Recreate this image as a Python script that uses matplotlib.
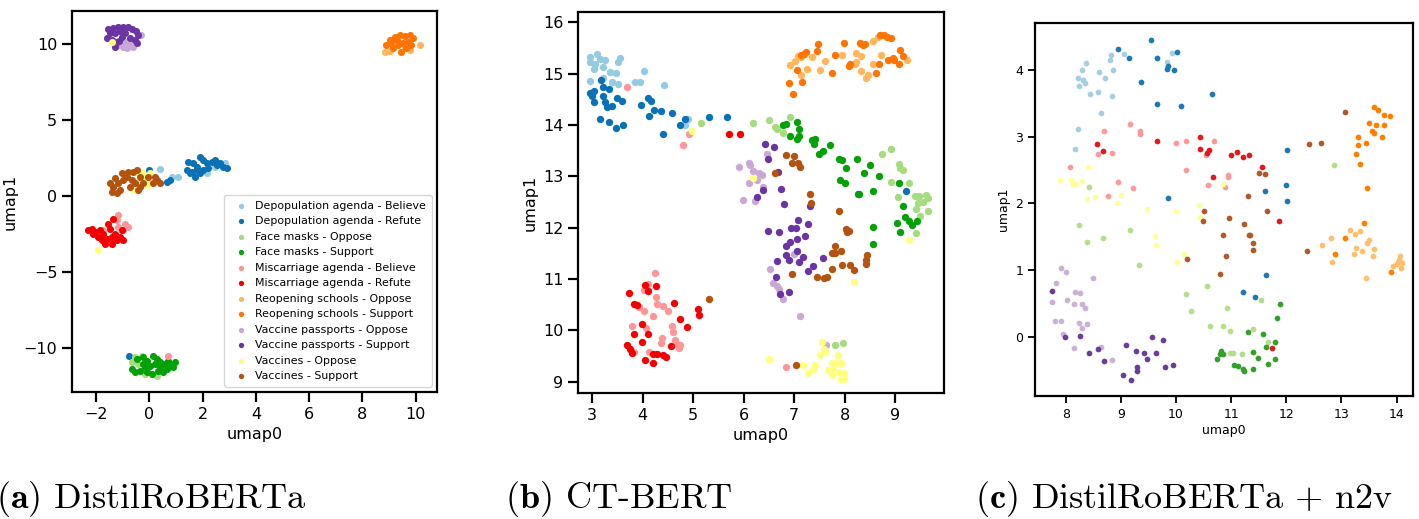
import matplotlib
matplotlib.use("Agg")
import matplotlib.pyplot as plt

# legend labels, same order in all three panels
labels = ["Depopulation agenda - Believe", "Depopulation agenda - Refute",
          "Face masks - Oppose", "Face masks - Support",
          "Miscarriage agenda - Believe", "Miscarriage agenda - Refute",
          "Reopening schools - Oppose", "Reopening schools - Support",
          "Vaccine passports - Oppose", "Vaccine passports - Support",
          "Vaccines - Oppose", "Vaccines - Support"]

colors_ab = ["#94cbe3", "#0a72b4", "#a6dc80", "#03a006", "#fd9797", "#f40000",
             "#ffb65c", "#ff7400", "#c9a8d6", "#6a35a2", "#ffff80", "#b4520f"]
colors_c = ["#a6cee3", "#1f78b4", "#b2df8a", "#33a02c", "#fb9a99", "#e31a1c",
            "#fdbf6f", "#ff7f00", "#cab2d6", "#6a3d9a", "#ffff99", "#b15928"]

# ---------------- panel (a) DistilRoBERTa ----------------
a_dep_believe = [(0.40, 1.76), (0.84, 1.28), (1.09, 1.28), (2.15, 1.50), (2.84, 2.16),
                 (2.46, 1.94), (-0.29, 0.95)]
a_dep_refute = [(0.0, 1.72), (0.65, 0.95), (0.78, 1.06), (1.40, 1.72), (1.53, 1.50), (1.46, 2.26),
                (1.65, 2.16), (1.78, 1.94), (1.90, 2.59), (2.03, 2.38), (2.15, 2.16), (2.34, 2.26),
                (2.46, 2.38), (2.53, 2.05), (2.65, 2.16), (2.21, 1.83), (1.90, 1.50), (1.71, 1.28),
                (1.59, 1.60), (2.03, 1.72), (2.90, 1.83), (2.78, 1.94), (1.78, 1.72), (-0.76, -10.54)]
a_mask_oppose = [(-0.54, -10.61), (-0.29, -10.50), (-0.41, -11.04), (-0.16, -11.70), (0.28, -11.82),
                 (-0.66, -10.94)]
a_mask_support = [(-0.47, -10.71), (-0.22, -10.61), (-0.10, -10.83), (0.15, -10.50), (0.28, -10.71),
                  (0.40, -10.94), (0.59, -11.04), (0.78, -11.04), (0.90, -11.27), (0.65, -11.37),
                  (0.40, -11.27), (0.21, -11.04), (0.03, -11.16), (-0.16, -11.27), (-0.35, -11.49),
                  (-0.54, -11.60), (-0.66, -11.37), (-0.10, -11.60), (0.09, -11.70), (0.34, -11.49),
                  (0.53, -11.60), (-0.22, -11.04), (0.71, -10.83), (0.96, -10.94)]
a_misc_believe = [(-1.16, -1.25), (-0.91, -1.80), (-0.79, -2.02), (-0.97, -2.24), (-1.16, -2.02),
                  (-1.72, -2.24), (-1.47, -2.90), (-1.22, -1.58), (0.69, -10.54)]
a_misc_refute = [(-2.29, -2.24), (-2.16, -2.13), (-2.04, -2.36), (-1.85, -2.24), (-1.91, -2.69),
                 (-1.79, -2.90), (-1.60, -2.79), (-1.41, -2.69), (-1.29, -2.46), (-1.22, -2.90),
                 (-1.10, -2.69), (-1.03, -2.24), (-1.47, -2.13), (-1.54, -1.80), (-1.35, -1.47),
                 (-1.66, -3.12), (-1.41, -3.12), (-0.97, -2.90), (-2.10, -2.46), (-1.72, -2.46)]
a_school_oppose = [(10.15, 9.97), (8.84, 9.52), (9.59, 9.85), (9.78, 9.64), (9.03, 9.59)]
a_school_support = [(8.90, 9.96), (9.03, 10.30), (9.21, 10.52), (9.40, 10.63), (9.59, 10.56),
                    (9.78, 10.63), (9.90, 10.41), (9.71, 10.19), (9.52, 10.08), (9.34, 9.97),
                    (9.15, 9.75), (9.46, 9.52), (9.65, 9.75), (9.84, 9.97), (9.09, 10.08), (9.28, 10.30)]
a_pass_oppose = [(-0.97, 9.85), (-0.79, 9.97), (-0.66, 10.08), (-0.85, 9.75), (-1.03, 10.08),
                 (-0.32, 10.63), (-0.60, 9.85), (-1.16, 9.97), (-0.85, 10.19)]
a_pass_support = [(-1.54, 11.0), (-1.35, 11.11), (-1.16, 11.13), (-0.97, 11.13), (-0.79, 11.13),
                  (-0.66, 11.0), (-0.50, 10.85), (-0.41, 10.63), (-0.54, 10.30), (-0.47, 10.08),
                  (-0.72, 10.41), (-0.91, 10.74), (-1.10, 10.85), (-1.29, 10.74), (-1.47, 10.74),
                  (-1.60, 10.45), (-1.41, 10.30), (-1.22, 10.19), (-1.03, 10.47), (-1.29, 9.85),
                  (-1.12, 10.25)]
a_vax_oppose = [(-1.39, 10.19), (-0.47, 1.50), (-0.29, 1.60), (-0.16, 1.28), (-0.04, 0.95),
                (-0.10, 0.73), (-0.60, 0.40), (-0.66, 0.84), (-0.35, 1.06), (0.03, 1.50), (-1.93, -3.56)]
a_vax_support = [(-1.47, 0.84), (-1.35, 0.61), (-1.41, 0.28), (-1.22, 0.22), (-1.10, 0.44),
                 (-1.16, 0.84), (-0.97, 1.06), (-0.91, 1.39), (-0.79, 1.60), (-0.60, 1.60),
                 (-0.47, 1.72), (-1.03, 1.50), (-0.85, 1.28), (-0.66, 1.06), (-0.54, 0.84),
                 (-0.35, 0.61), (-0.41, 0.40), (-0.22, 0.84), (-0.04, 1.28), (0.15, 0.84),
                 (0.28, 1.06), (0.21, 1.28), (0.40, 0.84), (-0.72, 0.61), (-1.29, 1.17), (-0.35, 1.28)]

# ---------------- panel (b) CT-BERT ----------------
b_dep_believe = [(2.96, 15.32), (3.09, 15.39), (3.16, 15.29), (3.26, 15.27), (2.96, 15.22),
                 (3.06, 15.19), (3.03, 15.09), (3.22, 15.12), (3.55, 15.31), (3.52, 15.22),
                 (3.36, 15.03), (3.48, 15.01), (2.96, 14.86), (3.22, 14.92), (3.39, 14.84),
                 (3.52, 14.80), (4.02, 15.05), (3.85, 14.83), (3.94, 14.84), (4.43, 14.78),
                 (4.89, 14.12), (4.84, 14.0)]
b_dep_refute = [(3.17, 14.88), (2.95, 14.63), (3.03, 14.67), (2.99, 14.57), (3.22, 14.73),
                (3.34, 14.70), (3.22, 14.57), (3.03, 14.45), (3.26, 14.44), (3.29, 14.35),
                (3.40, 14.37), (3.49, 14.52), (3.59, 14.46), (3.15, 14.12), (3.34, 14.06),
                (3.48, 13.94), (3.62, 14.0), (3.97, 14.39), (4.11, 14.52), (4.16, 14.47),
                (4.23, 14.29), (4.36, 14.27), (4.12, 14.18), (4.59, 14.23), (4.40, 13.82),
                (4.74, 13.99), (4.84, 14.11), (5.32, 14.16), (5.68, 14.16), (9.21, 12.71), (8.26, 12.65)]
b_mask_oppose = [(5.16, 14.03), (6.18, 14.03), (6.50, 14.10), (6.62, 13.96), (6.66, 13.92),
                 (6.78, 13.85), (6.92, 14.16), (8.74, 13.44), (8.92, 13.53), (9.07, 13.23),
                 (9.10, 13.16), (9.15, 13.12), (8.92, 12.89), (9.28, 12.87), (9.05, 12.59),
                 (9.40, 12.62), (9.48, 12.62), (9.61, 12.64), (9.66, 12.57), (9.55, 12.50),
                 (9.46, 12.48), (9.42, 12.37), (9.66, 12.33), (9.50, 12.22), (9.42, 11.89),
                 (7.81, 9.72), (7.96, 9.76)]
b_mask_support = [(6.79, 14.0), (6.84, 14.01), (7.05, 14.05), (7.10, 13.93), (6.92, 13.78),
                  (7.09, 13.78), (7.05, 13.72), (7.35, 13.71), (7.42, 13.72), (7.40, 13.63),
                  (7.71, 13.61), (7.58, 13.49), (7.50, 13.44), (7.88, 13.33), (7.94, 13.31),
                  (8.03, 13.16), (8.24, 13.33), (8.50, 13.22), (8.39, 13.06), (8.69, 13.01),
                  (7.91, 12.92), (8.01, 12.86), (8.29, 12.66), (8.57, 12.72), (9.07, 12.86),
                  (9.15, 12.43), (9.19, 12.20), (9.27, 12.13), (9.33, 12.06), (9.44, 12.13),
                  (9.03, 12.10), (9.10, 11.92), (8.57, 12.01), (8.57, 11.68)]
b_misc_believe = [(3.69, 14.73), (4.92, 13.83), (4.81, 13.60), (4.25, 11.12), (4.11, 10.91),
                  (4.02, 10.78), (4.26, 10.65), (4.29, 10.52), (4.41, 10.48), (3.92, 10.45),
                  (4.02, 10.37), (4.20, 10.27), (4.50, 10.37), (3.79, 10.08), (4.07, 10.04),
                  (4.58, 10.08), (4.60, 9.97), (4.38, 9.86), (4.37, 9.75), (4.64, 9.82),
                  (4.69, 9.73), (4.74, 9.71), (4.73, 9.65), (4.13, 9.58), (3.82, 9.58), (6.84, 9.29)]
b_misc_refute = [(5.71, 13.82), (5.92, 13.82), (4.05, 10.88), (4.27, 10.86), (4.10, 10.76),
                 (3.74, 10.73), (3.82, 10.52), (3.88, 10.50), (4.63, 10.54), (5.09, 10.42),
                 (5.11, 10.30), (3.98, 10.12), (3.82, 9.93), (4.11, 9.93), (4.74, 10.22),
                 (4.88, 10.06), (3.98, 9.78), (3.69, 9.71), (3.75, 9.63), (3.79, 9.55),
                 (4.56, 9.70), (4.21, 9.54), (4.29, 9.54), (4.41, 9.52), (4.47, 9.49),
                 (4.05, 9.42), (4.21, 9.37)]
b_school_oppose = [(6.91, 15.16), (7.01, 15.25), (7.07, 15.35), (7.14, 15.32), (7.36, 15.33),
                   (7.61, 15.24), (7.26, 15.09), (7.51, 15.07), (7.14, 14.97), (7.94, 15.37),
                   (8.23, 15.41), (8.33, 15.34), (8.23, 15.22), (8.21, 15.19), (8.33, 15.06),
                   (8.47, 14.98), (8.43, 14.92), (8.56, 15.18), (8.72, 15.37), (8.67, 15.71),
                   (8.56, 15.63), (9.24, 15.27)]
b_school_support = [(7.48, 15.58), (7.46, 15.44), (7.24, 15.42), (7.19, 15.39), (7.98, 15.60),
                    (8.31, 15.59), (8.36, 15.55), (8.41, 15.57), (8.71, 15.76), (8.78, 15.76),
                    (8.84, 15.71), (8.92, 15.69), (9.09, 15.46), (9.15, 15.35), (8.86, 15.27),
                    (8.95, 15.31), (8.97, 15.27), (9.07, 15.18), (8.68, 15.19), (8.62, 15.01),
                    (8.10, 15.19), (8.08, 15.14), (7.81, 15.37), (7.75, 15.01), (7.05, 15.07),
                    (7.16, 14.83), (6.89, 14.81), (6.98, 14.61), (7.14, 15.37)]
b_pass_oppose = [(5.90, 13.18), (6.10, 13.25), (6.13, 13.22), (6.19, 13.11), (6.31, 13.06),
                 (6.36, 13.03), (6.26, 12.93), (6.10, 12.87), (6.38, 12.80), (5.98, 12.53),
                 (6.23, 12.51), (6.46, 13.43), (6.52, 11.19), (6.58, 10.93), (6.66, 10.86),
                 (6.71, 10.81), (6.79, 10.61), (7.12, 10.27), (7.63, 9.72), (6.99, 11.48)]
b_pass_support = [(6.43, 13.62), (6.61, 13.57), (6.48, 13.33), (6.68, 13.08), (6.39, 12.74),
                  (6.27, 12.59), (6.74, 12.75), (6.80, 12.47), (7.32, 12.43), (7.07, 12.15),
                  (6.49, 11.94), (6.70, 11.91), (6.93, 11.99), (7.04, 11.99), (7.28, 12.08),
                  (7.22, 11.84), (7.05, 11.78), (6.91, 11.73), (6.84, 11.65), (6.84, 11.46),
                  (6.89, 11.37), (7.05, 11.54), (7.18, 11.43), (7.10, 11.33), (6.67, 11.35),
                  (7.58, 11.41), (7.38, 11.25), (7.28, 11.16), (6.64, 11.04), (6.72, 10.70), (6.89, 10.74)]
b_vax_oppose = [(4.97, 13.88), (6.19, 12.97), (6.50, 9.44), (9.27, 11.76), (8.19, 10.94),
                (7.55, 9.78), (7.59, 9.63), (7.61, 9.57), (7.52, 9.52), (7.86, 9.52), (7.17, 9.32),
                (7.42, 9.32), (7.37, 9.22), (7.27, 9.16), (7.75, 9.37), (7.83, 9.37), (7.92, 9.37),
                (7.68, 9.23), (7.78, 9.23), (7.88, 9.19), (7.98, 9.16), (7.75, 9.14), (7.92, 9.06),
                (7.99, 9.06)]
b_vax_support = [(6.62, 13.06), (5.32, 10.61), (6.84, 13.41), (7.00, 13.39), (6.95, 13.25),
                 (7.07, 13.26), (7.12, 13.18), (7.32, 12.66), (7.34, 12.48), (7.89, 12.33),
                 (8.03, 11.97), (8.08, 11.93), (8.04, 11.91), (7.81, 11.64), (7.75, 11.50),
                 (7.81, 11.50), (7.92, 11.55), (8.45, 11.46), (8.43, 11.37), (8.42, 11.30),
                 (7.94, 11.28), (8.10, 11.27), (8.19, 11.18), (7.75, 11.19), (7.45, 11.04),
                 (7.59, 11.01), (7.66, 11.03), (6.95, 11.09), (7.04, 9.32)]

# ---------------- panel (c) DistilRoBERTa + n2v ----------------
c_dep_believe = [(8.36, 4.10), (8.30, 4.00), (8.22, 3.87), (8.31, 3.84), (8.35, 3.80), (8.24, 3.75),
                 (8.44, 3.64), (8.61, 3.97), (8.71, 3.88), (8.59, 3.67), (8.85, 4.00), (8.80, 4.14),
                 (8.82, 4.22), (9.06, 4.23), (8.84, 3.60), (8.64, 3.35), (8.22, 3.11), (8.16, 2.82),
                 (9.92, 4.25), (9.84, 4.12)]
c_dep_refute = [(8.94, 4.31), (9.15, 4.17), (9.55, 4.44), (9.66, 4.17), (9.86, 4.06), (9.83, 4.01),
                (9.97, 3.99), (10.01, 4.26), (9.36, 3.82), (9.66, 3.48), (10.09, 3.45), (10.65, 3.63),
                (9.85, 2.08), (12.01, 2.80), (11.99, 2.27), (11.61, 2.18), (12.02, 2.03), (11.63, 0.93),
                (11.21, 0.68), (11.44, 0.60)]
c_mask_oppose = [(8.42, 2.24), (12.87, 2.58), (10.57, 0.77), (8.24, 1.68), (8.38, 1.42), (8.67, 1.48),
                 (9.16, 1.60), (9.32, 1.08), (10.18, 0.65), (10.27, 0.39), (10.61, 0.16), (10.86, 0.17),
                 (10.92, 0.43), (10.98, 0.09), (10.97, -0.23), (11.04, -0.23), (11.19, -0.25),
                 (11.39, 0.12), (11.54, 0.56), (11.67, -0.07)]
c_mask_support = [(10.74, -0.33), (10.79, -0.25), (10.81, -0.21), (10.86, -0.25), (11.05, -0.42),
                  (11.13, -0.43), (11.22, -0.48), (11.24, -0.51), (11.39, -0.48), (11.39, -0.22),
                  (11.49, -0.31), (11.30, 0.08), (11.58, 0.05), (11.64, -0.14), (11.67, -0.40),
                  (11.79, -0.33), (11.80, -0.08), (11.84, 0.28), (11.89, 0.50)]
c_misc_believe = [(8.70, 3.08), (9.16, 3.19), (9.35, 3.09), (9.35, 3.04), (8.58, 2.74), (8.84, 2.76),
                  (8.07, 2.55), (10.0, 2.90), (10.18, 2.94), (10.18, 2.50), (10.68, 2.94), (10.55, 2.72),
                  (10.58, 2.27), (8.94, 2.32), (8.77, 2.11), (9.21, 2.23), (10.95, 2.43), (10.95, 2.39),
                  (10.89, 2.24)]
c_misc_refute = [(8.56, 2.89), (8.67, 2.78), (9.66, 2.94), (10.44, 3.00), (10.44, 2.82), (10.59, 2.80),
                 (10.57, 2.76), (10.67, 2.40), (11.0, 2.73), (11.11, 2.77), (11.22, 2.69), (11.33, 2.72),
                 (11.56, 2.54), (11.87, 1.74), (11.74, -0.16)]
c_school_oppose = [(13.15, 1.60), (13.24, 1.54), (13.33, 1.58), (12.81, 1.49), (12.64, 1.38),
                   (12.83, 1.13), (13.27, 1.33), (13.37, 1.29), (13.22, 1.24), (13.47, 1.41),
                   (13.50, 1.45), (13.59, 1.32), (13.58, 1.21), (13.45, 0.88), (14.07, 1.21),
                   (14.04, 1.15), (14.10, 1.11), (13.93, 1.06), (14.0, 1.09), (14.09, 1.04), (14.03, 1.12)]
c_school_support = [(13.60, 3.44), (13.66, 3.40), (13.77, 3.32), (13.88, 3.31), (13.50, 3.20),
                    (13.62, 3.17), (13.78, 3.17), (13.56, 3.08), (13.60, 3.06), (13.73, 3.0),
                    (13.31, 3.0), (13.45, 2.90), (13.30, 2.88), (13.26, 2.74), (13.33, 2.59),
                    (13.47, 2.23), (13.41, 1.70), (13.07, 1.49), (12.88, 1.25), (13.90, 0.97)]
c_pass_oppose = [(7.92, 1.03), (8.01, 0.97), (7.82, 0.81), (7.75, 0.53), (8.02, 0.55), (8.16, 0.68),
                 (8.25, 0.66), (8.15, 0.49), (8.29, 0.49), (8.35, 0.44), (8.49, 0.89), (7.80, 0.24),
                 (7.92, 0.24), (8.23, 0.21), (8.39, 0.19), (8.30, 0.13), (7.95, 0.05), (8.15, -0.16),
                 (8.64, -0.15), (8.84, -0.34)]
c_pass_support = [(7.75, 0.69), (7.99, 0.0), (8.25, 0.02), (8.42, -0.23), (8.58, -0.18), (8.69, -0.35),
                  (9.09, -0.12), (9.27, -0.20), (9.42, -0.24), (9.64, -0.24), (9.47, -0.32),
                  (9.29, -0.44), (9.29, -0.51), (9.03, -0.57), (9.18, -0.64), (9.57, 0.0),
                  (9.76, -0.04), (9.79, -0.44), (9.95, -0.41)]
c_vax_oppose = [(7.89, 2.35), (8.09, 2.35), (8.13, 2.29), (8.19, 2.29), (8.30, 2.34), (8.40, 2.54),
                (8.38, 2.07), (8.53, 2.09), (9.0, 2.12), (8.92, 2.01), (9.48, 1.92), (9.99, 1.88),
                (10.42, 1.97), (10.44, 1.80), (9.62, 1.51), (9.63, 1.38), (10.15, 1.25), (10.01, 1.13),
                (10.86, 2.29)]
c_vax_support = [(10.50, 1.89), (10.48, 1.73), (10.96, 1.78), (11.24, 1.69), (11.35, 1.53),
                 (11.33, 1.52), (11.39, 1.41), (11.39, 1.30), (10.85, 1.52), (10.91, 1.21),
                 (10.19, 1.17), (10.79, 0.94), (11.65, 1.88), (11.51, 2.45), (11.61, 2.44),
                 (11.31, 2.11), (12.41, 2.89), (12.63, 2.90), (13.07, 3.37), (12.38, 1.29)]

panel_a = [a_dep_believe, a_dep_refute, a_mask_oppose, a_mask_support, a_misc_believe, a_misc_refute,
           a_school_oppose, a_school_support, a_pass_oppose, a_pass_support, a_vax_oppose, a_vax_support]
panel_b = [b_dep_believe, b_dep_refute, b_mask_oppose, b_mask_support, b_misc_believe, b_misc_refute,
           b_school_oppose, b_school_support, b_pass_oppose, b_pass_support, b_vax_oppose, b_vax_support]
panel_c = [c_dep_believe, c_dep_refute, c_mask_oppose, c_mask_support, c_misc_believe, c_misc_refute,
           c_school_oppose, c_school_support, c_pass_oppose, c_pass_support, c_vax_oppose, c_vax_support]


def draw(ax, groups, colors, size):
    for pts, col, lab in zip(groups, colors, labels):
        xs = [p[0] for p in pts]
        ys = [p[1] for p in pts]
        ax.scatter(xs, ys, s=size, color=col, label=lab, linewidths=0)
    for sp in ax.spines.values():
        sp.set_linewidth(1.6)


fig = plt.figure(figsize=(14.19, 5.19), dpi=100)

ax1 = fig.add_axes([0.0507, 0.2447, 0.2573, 0.7341])
draw(ax1, panel_a, colors_ab, 26)
ax1.set_xlim(-2.9, 10.8)
ax1.set_ylim(-12.9, 12.2)
ax1.set_xticks([-2, 0, 2, 4, 6, 8, 10])
ax1.set_yticks([-10, -5, 0, 5, 10])
ax1.tick_params(labelsize=11.5, length=7, width=1.6)
ax1.set_xlabel("umap0", fontsize=11.5)
ax1.set_ylabel("umap1", fontsize=11.5)
ax1.legend(loc="lower right", fontsize=7.9, markerscale=0.75, labelspacing=0.5,
           handletextpad=0.3, borderpad=0.5, frameon=True, fancybox=True)

ax2 = fig.add_axes([0.4073, 0.2428, 0.2580, 0.7341])
draw(ax2, panel_b, colors_ab, 28)
ax2.set_xlim(2.72, 9.97)
ax2.set_ylim(8.78, 16.2)
ax2.set_xticks([3, 4, 5, 6, 7, 8, 9])
ax2.set_yticks([9, 10, 11, 12, 13, 14, 15, 16])
ax2.tick_params(labelsize=11.5, length=7, width=1.6)
ax2.set_xlabel("umap0", fontsize=11.5)
ax2.set_ylabel("umap1", fontsize=11.5)

ax3 = fig.add_axes([0.7294, 0.237, 0.2664, 0.719])
draw(ax3, panel_c, colors_c, 17)
ax3.set_xlim(7.44, 14.3)
ax3.set_ylim(-0.88, 4.70)
ax3.set_xticks([8, 9, 10, 11, 12, 13, 14])
ax3.set_yticks([0, 1, 2, 3, 4])
ax3.tick_params(labelsize=9, length=5, width=1.3)
ax3.set_xlabel("umap0", fontsize=9, labelpad=2)
ax3.set_ylabel("umap1", fontsize=9)

plt.rcParams["mathtext.fontset"] = "cm"
cap = dict(fontsize=26, family="cmr10", va="baseline", ha="left")
fig.text(-0.003, 0.022, r"$\mathbf{(a)}$ DistilRoBERTa", **cap)
fig.text(0.356, 0.022, r"$\mathbf{(b)}$ CT-BERT", **cap)
fig.text(0.687, 0.022, r"$\mathbf{(c)}$ DistilRoBERTa + n2v", **cap)

fig.savefig("out.png", dpi=100)
